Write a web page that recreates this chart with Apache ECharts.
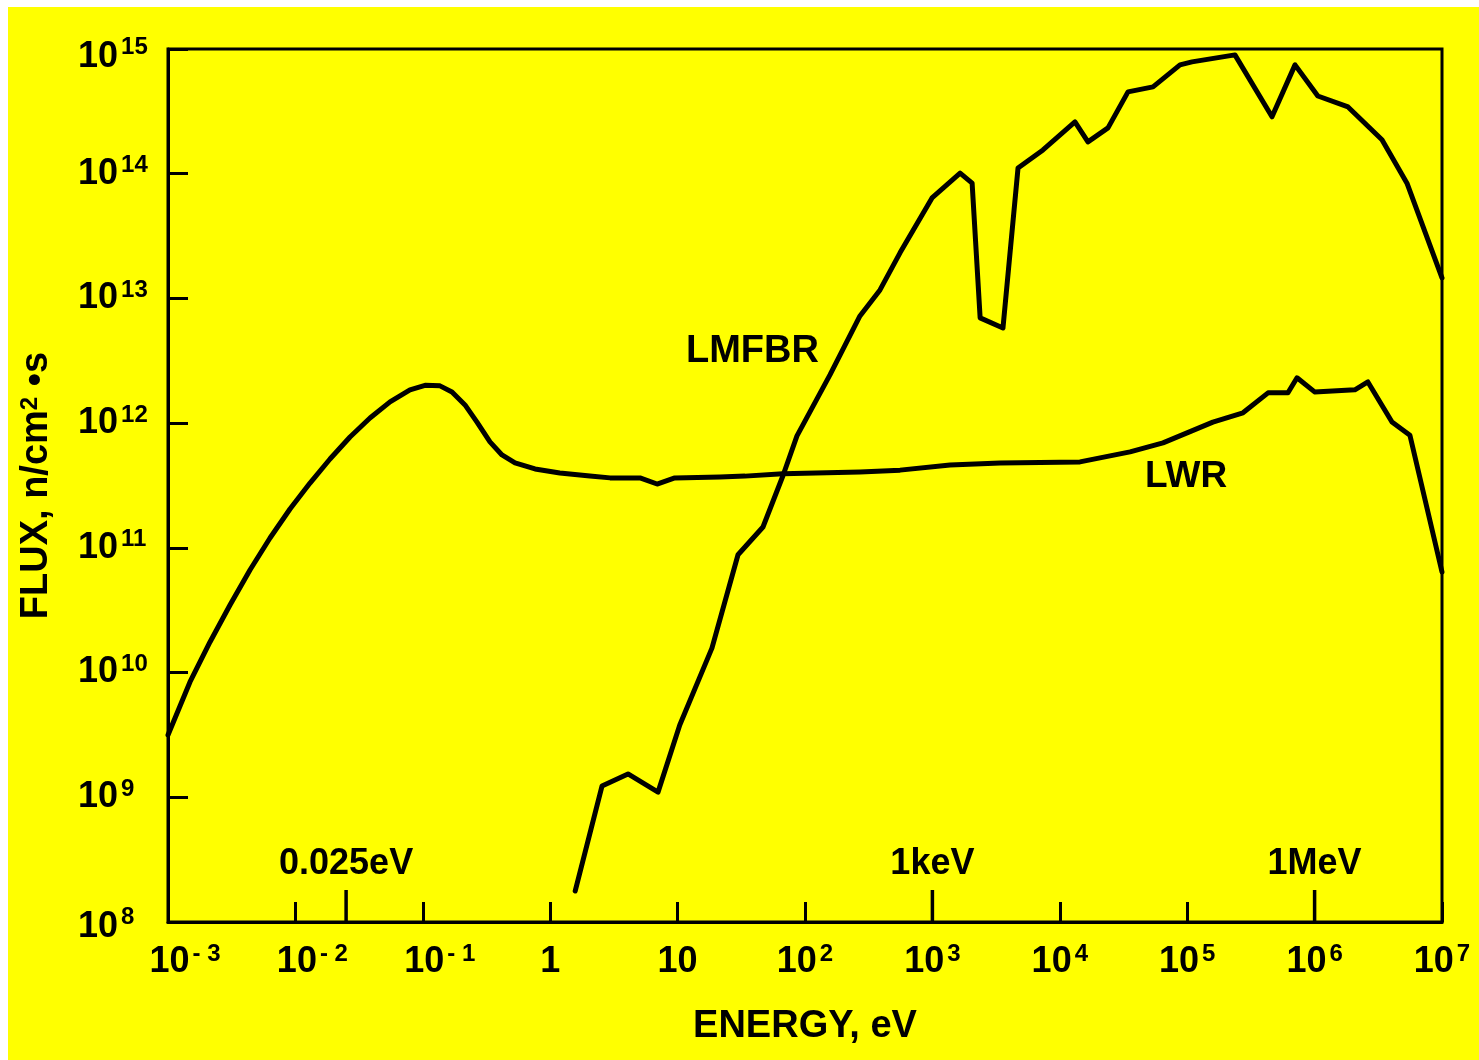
<!DOCTYPE html>
<html>
<head>
<meta charset="utf-8">
<script src="https://cdn.jsdelivr.net/npm/echarts@6/dist/echarts.min.js"></script>
<style>
  html, body { margin: 0; padding: 0; background: #ffffff; width: 1479px; height: 1060px; overflow: hidden; }
  #chart { position: absolute; left: 8px; top: 7px; width: 1471px; height: 1053px; background: #ffff00; }
</style>
</head>
<body>
<div id="chart"></div>
<script>
// Neutron energy (eV) and flux (n/cm^2·s) for the two reactor spectra
const lwrEnergy = [0.001, 0.001488, 0.002137, 0.003067, 0.0044, 0.00632, 0.00907, 0.01302, 0.01869, 0.02683,
  0.0385, 0.0553, 0.0793, 0.1041, 0.1365, 0.1695, 0.2144, 0.2663, 0.3367, 0.4183, 0.5295, 0.76, 1.19, 2.05,
  2.95, 5.07, 6.9, 9.5, 21.5, 33.8, 67, 270, 557, 1375, 3400, 14400, 35600, 64600, 159000, 274000, 431000,
  618000, 728000, 1000000, 2070000, 2620000, 4050000, 5600000, 10000000];
const lwrFlux = [3.16e9, 8.41e9, 1.76e10, 3.48e10, 6.65e10, 1.2e11, 2.05e11, 3.31e11, 5.16e11, 7.75e11,
  1.1e12, 1.48e12, 1.85e12, 2.01e12, 1.99e12, 1.78e12, 1.4e12, 1.02e12, 7.07e11, 5.56e11, 4.8e11, 4.29e11,
  3.99e11, 3.77e11, 3.64e11, 3.64e11, 3.25e11, 3.64e11, 3.7e11, 3.76e11, 3.92e11, 4.06e11, 4.2e11, 4.62e11,
  4.8e11, 4.89e11, 5.88e11, 6.94e11, 1.02e12, 1.21e12, 1.75e12, 1.75e12, 2.31e12, 1.78e12, 1.85e12, 2.14e12,
  1.02e12, 8.0e11, 6.4e10];

const lmfbrEnergy = [1.57, 2.55, 4.08, 7.02, 10.4, 18.6, 29.8, 46.8, 67, 86.5, 157, 270, 388, 557, 993, 1650,
  2050, 2370, 3580, 4700, 7380, 13150, 16630, 23900, 34300, 53900, 87800, 109000, 237000, 463000, 702000,
  1060000, 1830000, 3380000, 5310000, 10000000];
const lmfbrFlux = [1.77e8, 1.23e9, 1.54e9, 1.1e9, 3.8e9, 1.57e10, 8.8e10, 1.47e11, 3.77e11, 7.9e11, 2.44e12,
  7.24e12, 1.17e13, 2.32e13, 6.4e13, 1.01e14, 8.4e13, 6.98e12, 5.8e12, 1.11e14, 1.55e14, 2.6e14, 1.8e14,
  2.33e14, 4.53e14, 4.97e14, 7.46e14, 7.88e14, 8.97e14, 2.86e14, 7.46e14, 4.2e14, 3.43e14, 1.87e14, 8.4e13,
  1.46e13];

// Reference energies flagged along the energy axis
const markerEnergy = [0.025, 1000, 1000000];
const markerLabels = ['0.025eV', '1keV', '1MeV'];

const seriesNames = ['LWR', 'LMFBR'];
const axisTitles = ['ENERGY, eV', 'FLUX, n/cm{sup|2} •s'];

const FONT = '"Liberation Sans", Arial, Helvetica, sans-serif';
const WEIGHT = 'bold';
const INK = '#000000';

const zip = (xs, ys) => xs.map((x, i) => [x, ys[i]]);
const exponentOf = v => Math.round(Math.log10(v));

const baseStyle = { fontSize: 36, fontFamily: FONT, fontWeight: WEIGHT, color: INK, lineHeight: 40 };
const supStyle = { fontSize: 24, fontFamily: FONT, fontWeight: WEIGHT, color: INK, lineHeight: 24, verticalAlign: 'top' };
const tickRich = {
  b: baseStyle,
  s: Object.assign({}, supStyle, { padding: [0, 0, 0, 3] }),
  p: { width: 34, lineHeight: 40 },
  // end labels of the flux axis sit a little inside the frame corners
  bt: Object.assign({}, baseStyle, { padding: [16, 0, 0, 0] }),
  st: Object.assign({}, supStyle, { padding: [6, 0, 0, 3] }),
  bb: Object.assign({}, baseStyle, { padding: [10, 0, 0, 0] }),
  sb: Object.assign({}, supStyle, { padding: [3, 0, 0, 3] })
};

function xTickLabel(v) {
  const e = exponentOf(v);
  if (e === 0) return '{b|1}';
  if (e === 1) return '{b|10}';
  if (e < 0) return '{p|}{b|10}{s|- ' + (-e) + '}';
  return '{b|10}{s|' + e + '}';
}
function yTickLabel(v) {
  const e = exponentOf(v);
  if (e === 15) return '{bt|10}{st|' + e + '}';
  if (e === 8) return '{bb|10}{sb|' + e + '}';
  return '{b|10}{s|' + e + '}';
}

const chart = echarts.init(document.getElementById('chart'), null, { renderer: 'canvas' });

chart.setOption({
  backgroundColor: '#ffff00',
  animation: false,
  grid: {
    left: 160, right: 37, top: 42, bottom: 138,
    show: true, borderColor: INK, borderWidth: 3, backgroundColor: 'transparent'
  },
  xAxis: {
    type: 'log', logBase: 10, min: 1e-3, max: 1e7, interval: 1,
    name: axisTitles[0], nameLocation: 'middle', nameGap: 86,
    nameTextStyle: { fontSize: 38, fontFamily: FONT, fontWeight: WEIGHT, color: INK },
    axisLine: { show: true, lineStyle: { color: INK, width: 3 } },
    axisTick: { show: true, inside: true, length: 20, lineStyle: { color: INK, width: 3 } },
    minorTick: { show: false },
    splitLine: { show: false },
    axisLabel: { interval: 0, margin: 20, formatter: xTickLabel, rich: tickRich, showMinLabel: true, showMaxLabel: true }
  },
  yAxis: {
    type: 'log', logBase: 10, min: 1e8, max: 1e15, interval: 1,
    name: axisTitles[1], nameLocation: 'middle', nameGap: 112,
    nameTextStyle: {
      fontSize: 38, fontFamily: FONT, fontWeight: WEIGHT, color: INK,
      rich: { sup: { fontSize: 24, fontFamily: FONT, fontWeight: WEIGHT, color: INK, verticalAlign: 'top', lineHeight: 26 } }
    },
    axisLine: { show: true, lineStyle: { color: INK, width: 3 } },
    axisTick: { show: true, inside: true, length: 20, lineStyle: { color: INK, width: 3 } },
    minorTick: { show: false },
    splitLine: { show: false },
    axisLabel: { interval: 0, margin: 90, align: 'left', formatter: yTickLabel, rich: tickRich }
  },
  series: [
    {
      name: seriesNames[0], type: 'line', data: zip(lwrEnergy, lwrFlux),
      symbol: 'none', silent: true,
      lineStyle: { color: INK, width: 5, cap: 'round', join: 'round' }
    },
    {
      name: seriesNames[1], type: 'line', data: zip(lmfbrEnergy, lmfbrFlux),
      symbol: 'none', silent: true,
      lineStyle: { color: INK, width: 5, cap: 'round', join: 'round' }
    },
    {
      // tall marks with captions for thermal, keV and MeV energies
      type: 'custom', silent: true, clip: false,
      data: markerEnergy.map(e => [e, 1e8]),
      renderItem: function (params, api) {
        const p = api.coord([api.value(0), api.value(1)]);
        return {
          type: 'group',
          children: [
            { type: 'line', shape: { x1: p[0], y1: p[1], x2: p[0], y2: p[1] - 32 },
              style: { stroke: INK, lineWidth: 3.5 } },
            { type: 'text', x: p[0], y: p[1] - 58,
              style: { text: markerLabels[params.dataIndex], fontSize: 36, fontFamily: FONT, fontWeight: WEIGHT,
                       fill: INK, align: 'center', verticalAlign: 'middle' } }
          ]
        };
      }
    }
  ],
  graphic: [
    { type: 'text', left: 678, top: 326, silent: true,
      style: { text: seriesNames[1], fontSize: 38, fontFamily: FONT, fontWeight: WEIGHT, fill: INK } },
    { type: 'text', left: 1137, top: 451, silent: true,
      style: { text: seriesNames[0], fontSize: 37, fontFamily: FONT, fontWeight: WEIGHT, fill: INK } }
  ]
});
</script>
</body>
</html>
